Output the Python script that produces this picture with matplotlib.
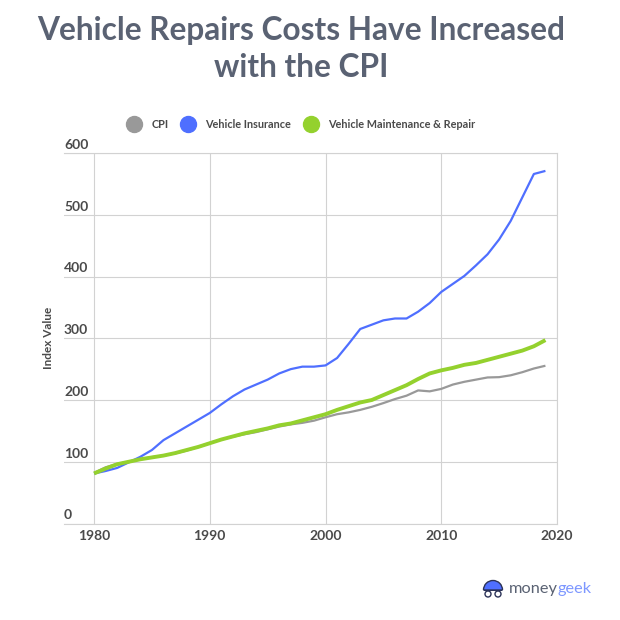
import matplotlib
matplotlib.use("Agg")
import matplotlib.pyplot as plt
from matplotlib.lines import Line2D
from matplotlib.patches import Circle, Wedge, Rectangle

years = list(range(1980, 2020))
cpi = [82, 91, 96.5, 100, 104, 107.5, 110, 113.5, 118, 124, 130.5, 136, 140.5, 144.5, 148, 152.5,
       157, 160.5, 163, 166.5, 172, 177, 180, 184, 189, 195, 201.5, 207, 215.5, 214, 218, 225,
       229.5, 233, 236.5, 237, 240, 245, 251, 255.5]
insurance = [81, 85, 90, 99, 108, 119, 135, 146, 157, 168, 179, 193, 206, 217, 225, 233,
             243, 250, 254, 254, 256, 268, 291, 315, 322, 329, 332, 332, 343, 357, 375, 388,
             401, 418, 436, 460, 490, 528, 566, 571]
repair = [81, 89, 96, 100, 104, 107, 110, 114, 119, 124, 130, 136, 141, 146, 150, 154,
          159, 162, 167, 172, 177, 184, 190, 196, 200, 208, 216, 224, 234, 243, 248, 252,
          257, 260, 265, 270, 275, 280, 287, 297]
x_ticks = [1980, 1990, 2000, 2010, 2020]
y_ticks = [0, 100, 200, 300, 400, 500, 600]
series_names = ["CPI", "Vehicle Insurance", "Vehicle Maintenance & Repair"]

GREY = "#999999"
BLUE = "#4f6fff"
GREEN = "#94d12e"
TITLE = "#5a6273"
TEXT = "#4a4a4a"
GRID = "#d2d2d2"
NAVY = "#2c3358"

plt.rcParams["font.family"] = ["Lato", "DejaVu Sans"]

fig = plt.figure(figsize=(6.2, 6.2), dpi=100, facecolor="white")
W = 620.0
# axes box in pixels: left 64, right 557, top 153, bottom 523.5
ax = fig.add_axes([64 / W, 1 - 523.5 / W, (557 - 64) / W, (523.5 - 153) / W])
ax.set_xlim(1980 - 30 / 11.56, 2020)
ax.set_ylim(0, 600)

ax.plot(years, cpi, color=GREY, lw=1.6, solid_capstyle="butt", zorder=3)
ax.plot(years, insurance, color=BLUE, lw=1.6, solid_capstyle="butt", zorder=4)
ax.plot(years, repair, color=GREEN, lw=2.8, solid_capstyle="butt", zorder=5)

ax.set_xticks(x_ticks)
ax.set_yticks(y_ticks)
ax.set_xticklabels([str(v) for v in x_ticks], fontsize=10, fontweight="bold", color=TEXT)
ax.set_yticklabels([])
ax.tick_params(length=0, pad=5)
ax.grid(True, color=GRID, lw=0.8)
ax.set_axisbelow(True)
ax.spines["left"].set_visible(False)
for side in ["top", "right", "bottom"]:
    ax.spines[side].set_color(GRID)
    ax.spines[side].set_linewidth(0.8)

# y labels sit above the gridlines at the left end
for v in y_ticks:
    ax.annotate(str(v), xy=(0, v), xycoords=("axes fraction", "data"), xytext=(0, 1.5),
                textcoords="offset points", fontsize=10, fontweight="bold", color=TEXT,
                ha="left", va="bottom")

fig.text(48 / W, 1 - 338 / W, "Index Value", rotation=90, fontsize=8.5, fontweight="bold",
         color=TEXT, ha="center", va="center")

fig.text(301 / W, 1 - 49 / W, "Vehicle Repairs Costs Have Increased\nwith the CPI", fontsize=22.8,
         fontweight="bold", color=TITLE, ha="center", va="center", linespacing=1.32)

handles = [Line2D([], [], ls="", marker="o", ms=11.5, color=c) for c in [GREY, BLUE, GREEN]]
fig.legend(handles, series_names, loc="center", bbox_to_anchor=(299 / W, 1 - 124 / W), ncol=3,
           frameon=False, labelcolor=TEXT, columnspacing=0.8, handletextpad=0.6,
           prop={"weight": "bold", "size": 7.8})

# moneygeek logo
logo = fig.add_axes([0, 0, 1, 1], facecolor="none")
logo.set_xlim(0, 620)
logo.set_ylim(620, 0)
logo.axis("off")
logo.add_patch(Wedge((493, 590), 9.5, 180, 360, fc=BLUE, ec=NAVY, lw=1.0))
logo.add_patch(Rectangle((484, 590), 18, 1.2, fc=NAVY, ec="none"))
logo.add_patch(Circle((488, 594), 3, fc="white", ec=NAVY, lw=1.0))
logo.add_patch(Circle((498, 594), 3, fc="white", ec=NAVY, lw=1.0))
logo.text(509, 589, "money", fontsize=11.8, color="#5a6273", ha="left", va="center")
logo.text(558, 589, "geek", fontsize=11.8, color="#7d97ff", ha="left", va="center")

fig.savefig("out.png", dpi=100, facecolor="white")
